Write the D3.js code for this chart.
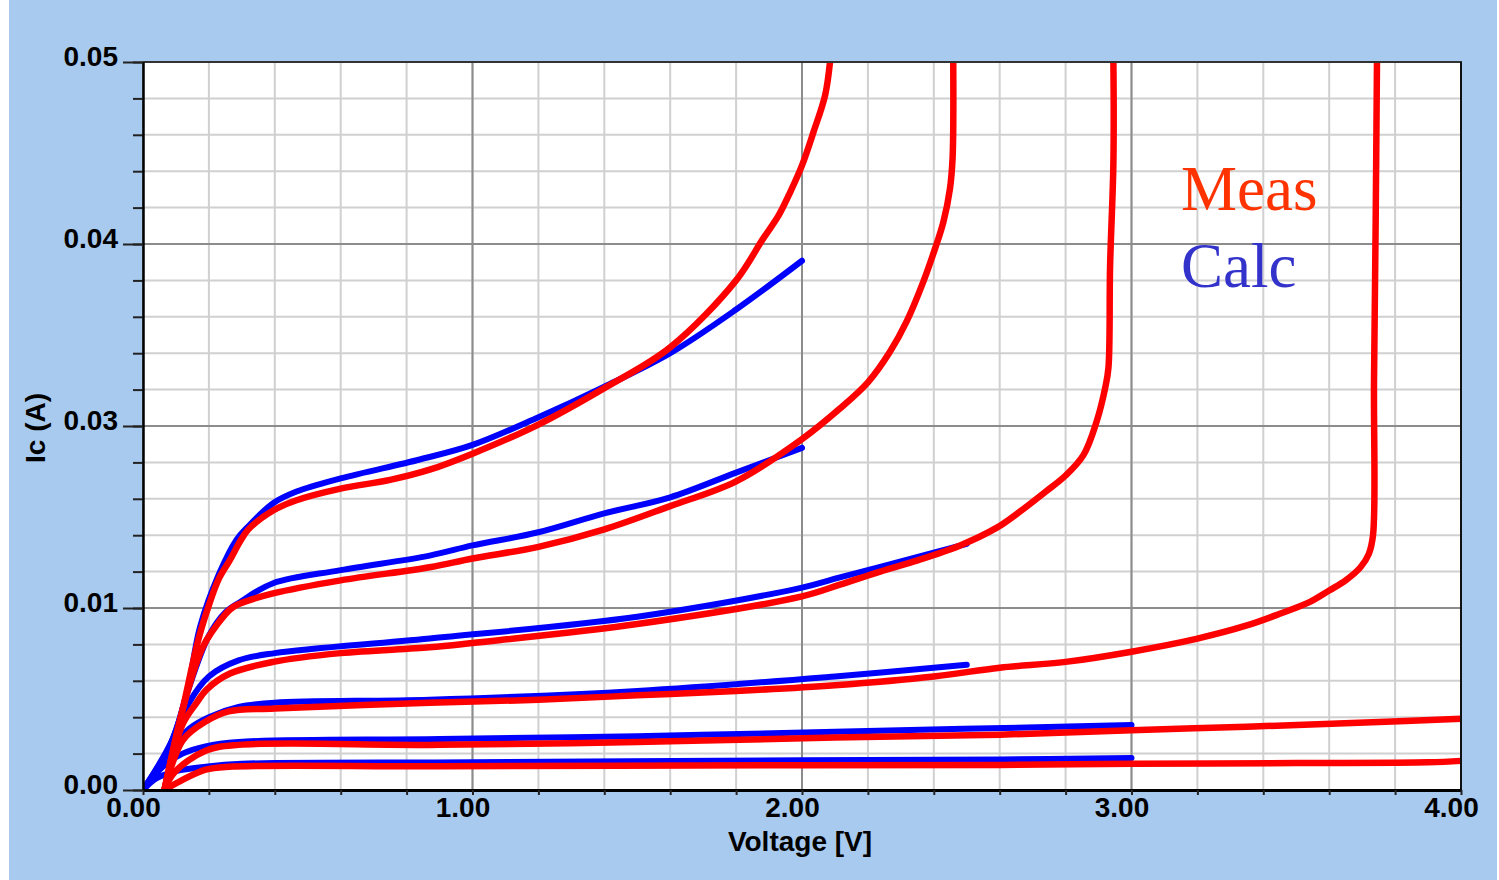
<!DOCTYPE html>
<html>
<head>
<meta charset="utf-8">
<script src="https://cdn.jsdelivr.net/npm/d3@7"></script>
<style>
    body { margin: 0; background: #ffffff; }
    svg { display: block; }
    .tickLabel { font-family: "Liberation Sans", Arial, sans-serif; font-weight: bold; font-size: 28px; fill: #000; }
</style>
</head>
<body>
<svg id="chart" width="1499" height="880"></svg>
<script>
// measured curves [voltage, current]
let meas1 = [[0.065, 0], [0.12, 0.0007], [0.19, 0.0014], [0.26, 0.0016], [0.9, 0.00163], [2.0, 0.0017], [2.6, 0.00172], [3.0, 0.0018], [3.5, 0.00185], [3.9, 0.0019], [4.0, 0.002]];
let meas2 = [[0.065, 0], [0.095, 0.0012], [0.19, 0.0027], [0.29, 0.0031], [0.9, 0.0031], [1.5, 0.0033], [2.1, 0.0036], [2.6, 0.0038], [3.0, 0.0041], [3.35, 0.00435], [3.73, 0.00465], [4.0, 0.0049]];
let meas3 = [[0.065, 0], [0.12, 0.0034], [0.19, 0.0047], [0.26, 0.0054], [0.4, 0.0056], [0.87, 0.006], [1.2, 0.0062], [1.5, 0.0065], [1.8, 0.0068], [2.1, 0.0072], [2.4, 0.0078], [2.6, 0.0084], [2.8, 0.0088], [3.0, 0.0095], [3.2, 0.0104], [3.35, 0.0113], [3.45, 0.0121], [3.54, 0.0129], [3.6, 0.0137], [3.65, 0.0144], [3.695, 0.0153], [3.72, 0.0162], [3.733, 0.0175], [3.736, 0.028], [3.741, 0.039], [3.745, 0.05]];
let meas4 = [[0.065, 0], [0.12, 0.0045], [0.163, 0.006], [0.193, 0.0069], [0.264, 0.008], [0.395, 0.0088], [0.6, 0.0094], [0.87, 0.0098], [1.0, 0.0101], [1.5, 0.0114], [2.0, 0.0133], [2.115, 0.0141], [2.237, 0.015], [2.34, 0.0157], [2.48, 0.0168], [2.59, 0.018], [2.66, 0.0191], [2.74, 0.0205], [2.8, 0.0216], [2.854, 0.023], [2.894, 0.0253], [2.92, 0.0276], [2.93, 0.029], [2.935, 0.036], [2.945, 0.043], [2.945, 0.05]];
let meas5 = [[0.065, 0], [0.12, 0.0055], [0.17, 0.0092], [0.193, 0.0103], [0.264, 0.0124], [0.294, 0.0128], [0.395, 0.0135], [0.6, 0.0144], [0.87, 0.0153], [1.0, 0.0159], [1.2, 0.0167], [1.4, 0.0179], [1.6, 0.0195], [1.8, 0.0212], [2.0, 0.0241], [2.115, 0.0262], [2.2, 0.028], [2.267, 0.0301], [2.318, 0.0322], [2.368, 0.0349], [2.404, 0.0372], [2.429, 0.039], [2.449, 0.0413], [2.457, 0.0434], [2.459, 0.05]];
let meas6 = [[0.065, 0], [0.12, 0.0055], [0.17, 0.0105], [0.2, 0.0127], [0.23, 0.0145], [0.264, 0.0158], [0.294, 0.01705], [0.32, 0.0179], [0.395, 0.0192], [0.466, 0.0199], [0.6, 0.0207], [0.75, 0.0213], [0.87, 0.022], [1.0, 0.0231], [1.2, 0.0251], [1.4, 0.0276], [1.6, 0.0304], [1.8, 0.035], [1.88, 0.0378], [1.93, 0.0395], [1.965, 0.0411], [2.0, 0.0429], [2.035, 0.0452], [2.07, 0.0477], [2.085, 0.05]];

// calculated curves [voltage, current]
let calc1 = [[0, 0], [0.04, 0.0008], [0.1, 0.0013], [0.19, 0.0016], [0.3, 0.0018], [1.0, 0.0019], [2.0, 0.00205], [2.6, 0.0021], [3.0, 0.0022]];
let calc2 = [[0, 0], [0.06, 0.0016], [0.12, 0.0025], [0.19, 0.003], [0.29, 0.0033], [0.9, 0.0035], [1.5, 0.0037], [2.1, 0.004], [3.0, 0.00446]];
let calc3 = [[0, 0], [0.08, 0.0026], [0.14, 0.0042], [0.2, 0.005], [0.29, 0.0057], [0.4, 0.006], [0.87, 0.0062], [1.5, 0.0068], [2.1, 0.0078], [2.5, 0.0086]];
let calc4 = [[0, 0], [0.09, 0.0033], [0.14, 0.006], [0.2, 0.0078], [0.29, 0.0089], [0.4, 0.0094], [0.87, 0.0104], [1.5, 0.0119], [2.0, 0.0139], [2.115, 0.0146], [2.3, 0.0157], [2.5, 0.0169]];
let calc5 = [[0, 0], [0.09, 0.0035], [0.133, 0.0066], [0.2, 0.0106], [0.25, 0.0122], [0.294, 0.0129], [0.395, 0.0142], [0.6, 0.0151], [0.87, 0.0161], [1.0, 0.0168], [1.2, 0.0177], [1.4, 0.019], [1.6, 0.0201], [1.8, 0.0218], [2.0, 0.0235]];
let calc6 = [[0, 0], [0.05, 0.0015], [0.09, 0.0035], [0.133, 0.0066], [0.173, 0.0112], [0.23, 0.0148], [0.284, 0.0172], [0.315, 0.018], [0.395, 0.0197], [0.466, 0.0205], [0.6, 0.0214], [0.84, 0.0227], [1.0, 0.0237], [1.2, 0.0256], [1.4, 0.0277], [1.6, 0.03], [1.8, 0.033], [2.0, 0.03635]];

// ticks
let xMajorTicks = [0, 1, 2, 3, 4];
let xTickLabels = ["0.00", "1.00", "2.00", "3.00", "4.00"];
let yMajorTicks = [0, 0.0125, 0.025, 0.0375, 0.05];
let yTickLabels = ["0.00", "0.01", "0.03", "0.04", "0.05"];

let svg = d3.select("#chart");
let plotLeft = 143, plotRight = 1461, plotTop = 62, plotBottom = 790;

let xScale = d3.scaleLinear().domain([0, 4]).range([plotLeft, plotRight]);
let yScale = d3.scaleLinear().domain([0, 0.05]).range([plotBottom, plotTop]);

let xMinor = d3.range(0, 4.0001, 0.2);
let yMinor = d3.range(0, 0.05001, 0.0025);

// background
svg.append("rect").attr("x", 9).attr("y", 0).attr("width", 1488).attr("height", 880).attr("fill", "#a8caee");
svg.append("rect").attr("x", plotLeft).attr("y", plotTop)
    .attr("width", plotRight - plotLeft).attr("height", plotBottom - plotTop).attr("fill", "#ffffff");

// grid
let grid = svg.append("g");
grid.selectAll(".vminor").data(xMinor).enter().append("line")
    .attr("x1", d => xScale(d)).attr("x2", d => xScale(d))
    .attr("y1", plotTop).attr("y2", plotBottom)
    .attr("stroke", "#d0d0d0").attr("stroke-width", 2);
grid.selectAll(".hminor").data(yMinor).enter().append("line")
    .attr("x1", plotLeft).attr("x2", plotRight)
    .attr("y1", d => yScale(d)).attr("y2", d => yScale(d))
    .attr("stroke", "#d0d0d0").attr("stroke-width", 2);
grid.selectAll(".vmajor").data(xMajorTicks).enter().append("line")
    .attr("x1", d => xScale(d)).attr("x2", d => xScale(d))
    .attr("y1", plotTop).attr("y2", plotBottom)
    .attr("stroke", "#8c8c8c").attr("stroke-width", 2);
grid.selectAll(".hmajor").data(yMajorTicks).enter().append("line")
    .attr("x1", plotLeft).attr("x2", plotRight)
    .attr("y1", d => yScale(d)).attr("y2", d => yScale(d))
    .attr("stroke", "#8c8c8c").attr("stroke-width", 2);

// curves
svg.append("clipPath").attr("id", "plotClip").append("rect")
    .attr("x", plotLeft).attr("y", plotTop - 1)
    .attr("width", plotRight - plotLeft + 3).attr("height", plotBottom - plotTop + 1);

let line = d3.line()
    .x(d => xScale(d[0]))
    .y(d => yScale(d[1]))
    .curve(d3.curveCatmullRom.alpha(0.5));

let curves = svg.append("g").attr("clip-path", "url(#plotClip)");
curves.selectAll(".calc").data([calc1, calc2, calc3, calc4, calc5, calc6]).enter().append("path")
    .attr("d", line)
    .attr("fill", "none")
    .attr("stroke", "#0000ff")
    .attr("stroke-width", 6)
    .attr("stroke-linecap", "round");
curves.selectAll(".meas").data([meas1, meas2, meas3, meas4, meas5, meas6]).enter().append("path")
    .attr("d", line)
    .attr("fill", "none")
    .attr("stroke", "#ff0000")
    .attr("stroke-width", 6.5);

// frame
svg.append("line").attr("x1", plotLeft).attr("x2", plotRight + 1).attr("y1", plotTop).attr("y2", plotTop)
    .attr("stroke", "#333333").attr("stroke-width", 2);
svg.append("line").attr("x1", plotRight).attr("x2", plotRight).attr("y1", plotTop).attr("y2", plotBottom)
    .attr("stroke", "#111111").attr("stroke-width", 2);

// y axis
let yAxisMinor = d3.axisLeft(yScale).tickValues(yMinor).tickSize(10).tickSizeOuter(0).tickFormat("");
let yAxisMajor = d3.axisLeft(yScale).tickValues(yMajorTicks).tickSize(20).tickSizeOuter(0).tickPadding(5)
    .tickFormat((d, i) => yTickLabels[i]);
let yMinorG = svg.append("g").attr("transform", "translate(" + plotLeft + ",0)").call(yAxisMinor);
let yMajorG = svg.append("g").attr("transform", "translate(" + plotLeft + ",0)").call(yAxisMajor);
[yMinorG, yMajorG].forEach(g => {
    g.select(".domain").attr("stroke", "#000").attr("stroke-width", 2);
    g.selectAll(".tick line").attr("stroke", "#222").attr("stroke-width", 2);
});
yMajorG.selectAll("text").attr("class", "tickLabel").attr("dy", "0.12em");

// x axis
let xAxis = d3.axisBottom(xScale).tickValues(xMinor).tickSize(5).tickSizeOuter(0).tickPadding(2)
    .tickFormat(d => {
        let i = xMajorTicks.findIndex(m => Math.abs(m - d) < 1e-6);
        return i >= 0 ? xTickLabels[i] : "";
    });
let xAxisG = svg.append("g").attr("transform", "translate(0," + plotBottom + ")").call(xAxis);
xAxisG.select(".domain").attr("stroke", "#000").attr("stroke-width", 3);
xAxisG.selectAll(".tick line").attr("stroke", "#222").attr("stroke-width", 2);
xAxisG.selectAll("text").attr("class", "tickLabel").attr("dx", -10);

// axis titles
svg.append("text")
    .attr("class", "tickLabel")
    .attr("text-anchor", "middle")
    .attr("x", 800)
    .attr("y", 851)
    .text("Voltage [V]");

svg.append("text")
    .attr("class", "tickLabel")
    .attr("text-anchor", "middle")
    .attr("transform", "translate(45,428) rotate(-90)")
    .text("Ic (A)");

// legend
svg.append("text")
    .attr("x", 1181)
    .attr("y", 210)
    .attr("font-family", "Liberation Serif, Times New Roman, serif")
    .attr("font-size", 63)
    .attr("fill", "#ff3300")
    .text("Meas");
svg.append("text")
    .attr("x", 1181)
    .attr("y", 287)
    .attr("font-family", "Liberation Serif, Times New Roman, serif")
    .attr("font-size", 63)
    .attr("fill", "#3333cc")
    .text("Calc");
</script>
</body>
</html>
